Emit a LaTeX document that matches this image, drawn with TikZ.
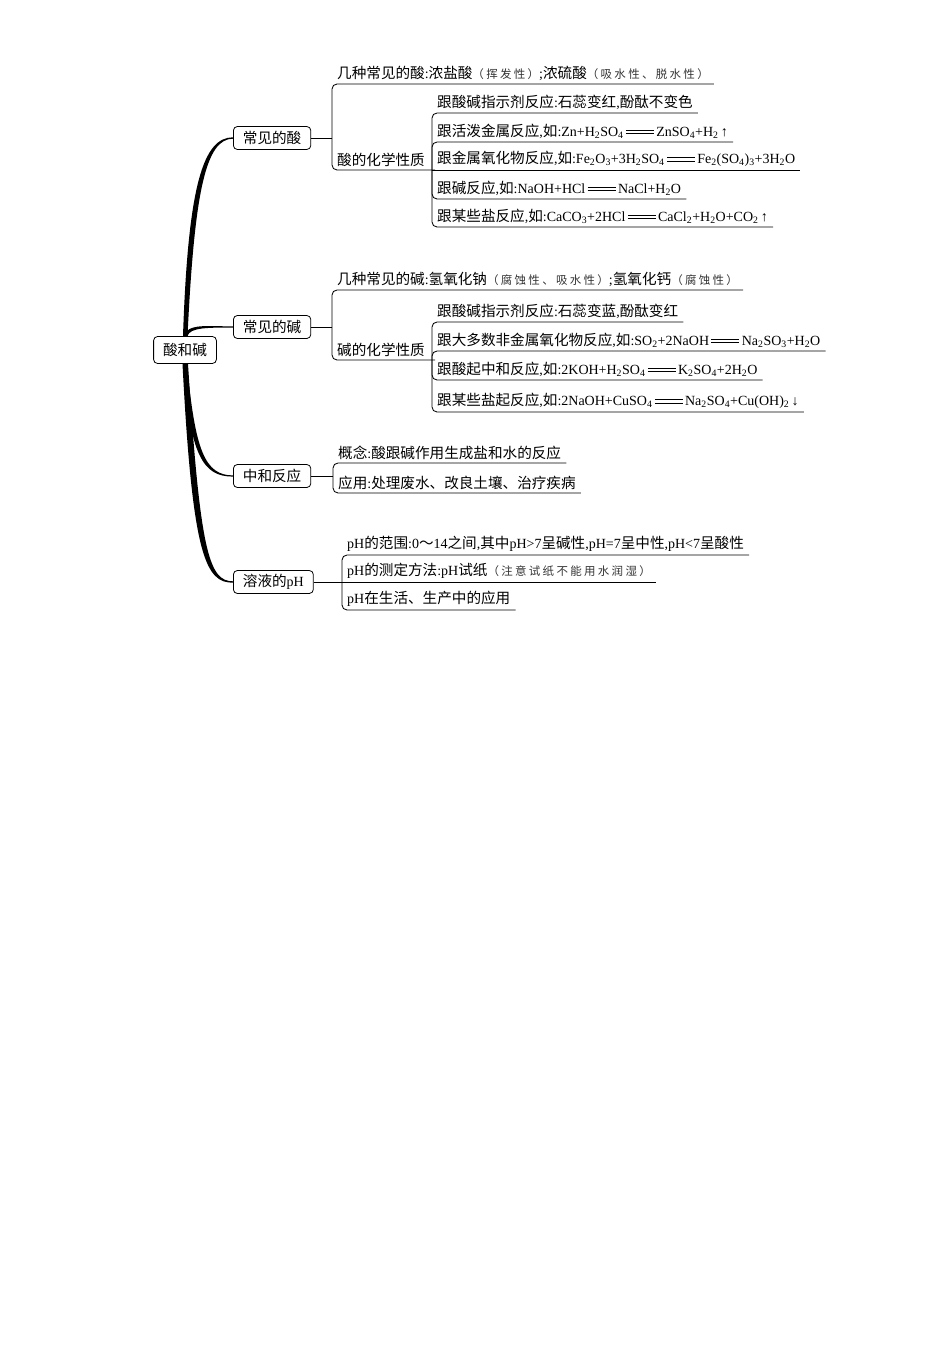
\documentclass[tikz,border=0pt]{standalone}
\usepackage{fontspec}
\setmainfont{Liberation Serif}
\newfontfamily\cjk{Noto Sans CJK SC}
\newfontfamily\cjknote[LetterSpace=20,Color=333333]{Noto Sans CJK SC}
\usetikzlibrary{positioning,calc}
\newcommand{\formula}[1]{{\rmfamily\fontsize{14}{16}\selectfont #1}}
\newcommand{\paren}[1]{{\cjknote\fontsize{11.5}{13}\selectfont #1}}
\newcommand{\longeq}{\,\rule[0.2em]{2em}{0.5pt}\llap{\rule[0.42em]{2em}{0.5pt}}\,}

\begin{document}
\begin{tikzpicture}[
  x=1pt, y=-1pt,
  font=\cjk\fontsize{14.6}{16}\selectfont,
  root/.style={draw, rounded corners=4pt, line width=0.8pt, fill=white, minimum height=27pt, inner xsep=9.5pt},
  branch/.style={draw, rounded corners=4pt, line width=0.8pt, fill=white, minimum height=23pt, inner xsep=9.5pt, anchor=west},
  leaf/.style={anchor=south west, inner xsep=5pt, inner ysep=3pt},
  link/.style={line width=0.85pt, rounded corners=5pt},
  trunk/.style={fill=black}
]
\useasboundingbox (0,0) rectangle (950,1346);

\node[root] (root) at (185,350) {酸和碱};
\node[branch] (acid) at (233,138) {常见的酸};
\node[branch] (base) at (233,327) {常见的碱};
\node[branch] (neut) at (233,476) {中和反应};
\node[branch] (ph) at (233,582) {溶液的\formula{pH}};

\coordinate (acid-fork) at (332,138);
\coordinate (acid-sub) at (432,170);
\coordinate (base-fork) at (332,327);
\coordinate (base-sub) at (432,360);
\coordinate (neut-fork) at (333,476);
\coordinate (ph-fork) at (342,582);

\node[leaf] (acid-kinds) at (332,84) {几种常见的酸\formula{:}浓盐酸\paren{（挥发性）}\formula{;}浓硫酸\paren{（吸水性、脱水性）}};
\node[leaf] (acid-prop) at (332,170) {酸的化学性质};
\node[leaf] (acid-p1) at (432,113) {跟酸碱指示剂反应\formula{:}石蕊变红\formula{,}酚酞不变色};
\node[leaf] (acid-p2) at (432,142) {跟活泼金属反应\formula{,}如\formula{:Zn+H\textsubscript{2}SO\textsubscript{4}\longeq ZnSO\textsubscript{4}+H\textsubscript{2}\,↑}};
\node[leaf] (acid-p3) at (432,170) {跟金属氧化物反应\formula{,}如\formula{:Fe\textsubscript{2}O\textsubscript{3}+3H\textsubscript{2}SO\textsubscript{4}\longeq Fe\textsubscript{2}(SO\textsubscript{4})\textsubscript{3}+3H\textsubscript{2}O}};
\node[leaf] (acid-p4) at (432,199) {跟碱反应\formula{,}如\formula{:NaOH+HCl\longeq NaCl+H\textsubscript{2}O}};
\node[leaf] (acid-p5) at (432,227) {跟某些盐反应\formula{,}如\formula{:CaCO\textsubscript{3}+2HCl\longeq CaCl\textsubscript{2}+H\textsubscript{2}O+CO\textsubscript{2}\,↑}};

\node[leaf] (base-kinds) at (332,290) {几种常见的碱\formula{:}氢氧化钠\paren{（腐蚀性、吸水性）}\formula{;}氢氧化钙\paren{（腐蚀性）}};
\node[leaf] (base-prop) at (332,360) {碱的化学性质};
\node[leaf] (base-p1) at (432,322) {跟酸碱指示剂反应\formula{:}石蕊变蓝\formula{,}酚酞变红};
\node[leaf] (base-p2) at (432,351) {跟大多数非金属氧化物反应\formula{,}如\formula{:SO\textsubscript{2}+2NaOH\longeq Na\textsubscript{2}SO\textsubscript{3}+H\textsubscript{2}O}};
\node[leaf] (base-p3) at (432,380) {跟酸起中和反应\formula{,}如\formula{:2KOH+H\textsubscript{2}SO\textsubscript{4}\longeq K\textsubscript{2}SO\textsubscript{4}+2H\textsubscript{2}O}};
\node[leaf] (base-p4) at (432,412) {跟某些盐起反应\formula{,}如\formula{:2NaOH+CuSO\textsubscript{4}\longeq Na\textsubscript{2}SO\textsubscript{4}+Cu(OH)\textsubscript{2}\,↓}};

\node[leaf] (neut-c1) at (333,463) {概念\formula{:}酸跟碱作用生成盐和水的反应};
\node[leaf] (neut-c2) at (333,493) {应用\formula{:}处理废水、改良土壤、治疗疾病};

\node[leaf] (ph-c1) at (342,555) {\formula{pH}的范围\formula{:0}～\formula{14}之间\formula{,}其中\formula{pH>7}呈碱性\formula{,pH=7}呈中性\formula{,pH<7}呈酸性};
\node[leaf] (ph-c2) at (342,582) {\formula{pH}的测定方法\formula{:pH}试纸\paren{（注意试纸不能用水润湿）}};
\node[leaf] (ph-c3) at (342,610) {\formula{pH}在生活、生产中的应用};

\fill[trunk] ([xshift=-2pt]root.north) .. controls +(5,-150) and +(-30,0) .. ([yshift=0.7pt]acid.west)
  -- ([yshift=-0.7pt]acid.west) .. controls +(-27,0) and +(7,-146) .. ([xshift=2.5pt]root.north) -- cycle;
\fill[trunk] ([xshift=-1pt]root.north) .. controls +(3,-13) and +(-25,0) .. ([yshift=0.6pt]base.west)
  -- ([yshift=-0.6pt]base.west) .. controls +(-23,0) and +(2,-9) .. ([xshift=2.5pt]root.north) -- cycle;
\fill[trunk] ([xshift=-2pt]root.south) .. controls +(7,92) and +(-30,0) .. ([yshift=-0.6pt]neut.west)
  -- ([yshift=0.6pt]neut.west) .. controls +(-28,0) and +(8,87) .. ([xshift=2pt]root.south) -- cycle;
\fill[trunk] ([xshift=-2.5pt]root.south) .. controls +(10,194) and +(-27,0) .. ([yshift=-0.7pt]ph.west)
  -- ([yshift=0.7pt]ph.west) .. controls +(-24,0) and +(12,188) .. ([xshift=3pt]root.south) -- cycle;

\draw[link] (acid.east) -- (acid-fork);
\draw[link] (acid-fork) |- (acid-kinds.south east);
\draw[link] (acid-fork) |- (acid-prop.south east) -- (acid-sub);
\draw[link] (acid-sub) |- (acid-p1.south east);
\draw[link] (acid-sub) |- (acid-p2.south east);
\draw[link] (acid-sub) -- (acid-p3.south east);
\draw[link] (acid-sub) |- (acid-p4.south east);
\draw[link] (acid-sub) |- (acid-p5.south east);

\draw[link] (base.east) -- (base-fork);
\draw[link] (base-fork) |- (base-kinds.south east);
\draw[link] (base-fork) |- (base-prop.south east) -- (base-sub);
\draw[link] (base-sub) |- (base-p1.south east);
\draw[link] (base-sub) |- (base-p2.south east);
\draw[link] (base-sub) |- (base-p3.south east);
\draw[link] (base-sub) |- (base-p4.south east);

\draw[link] (neut.east) -- (neut-fork);
\draw[link] (neut-fork) |- (neut-c1.south east);
\draw[link] (neut-fork) |- (neut-c2.south east);

\draw[link] (ph.east) -- (ph-fork);
\draw[link] (ph-fork) |- (ph-c1.south east);
\draw[link] (ph-fork) -- (ph-c2.south east);
\draw[link] (ph-fork) |- (ph-c3.south east);
\end{tikzpicture}
\end{document}
